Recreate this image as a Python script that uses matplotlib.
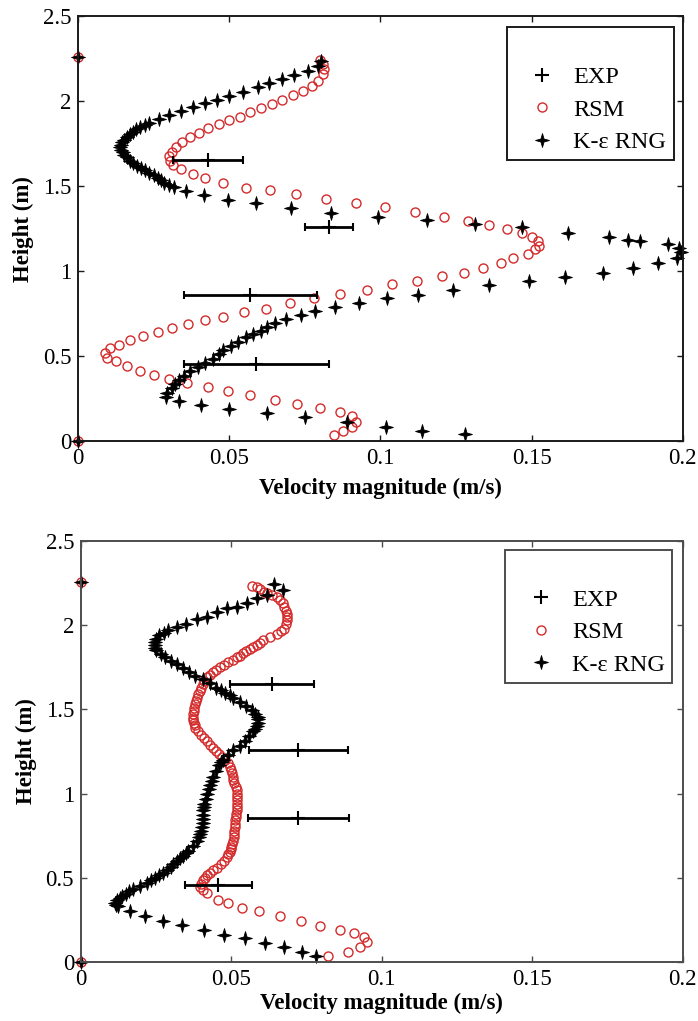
import matplotlib
matplotlib.use("Agg")
import matplotlib.pyplot as plt
from matplotlib.lines import Line2D
from matplotlib.path import Path

plt.rcParams['font.family'] = ['Liberation Serif', 'DejaVu Serif']
plt.rcParams['font.size'] = 16

# ---- top panel data ----
exp1_x = [0.043, 0.083, 0.057, 0.059]
exp1_y = [1.655, 1.26, 0.86, 0.455]
exp1_err = [0.0115, 0.0078, 0.022, 0.024]

rsm1_x = [0.0, 0.080, 0.081, 0.0815, 0.081, 0.0795, 0.0775, 0.0745, 0.071, 0.0675, 0.064,
          0.0605, 0.057, 0.0535, 0.050, 0.0465, 0.043, 0.040, 0.037, 0.0345, 0.0325,
          0.031, 0.030, 0.0305, 0.0315, 0.034, 0.038, 0.042, 0.048, 0.0555, 0.0635,
          0.072, 0.082, 0.092, 0.1015, 0.1115, 0.121, 0.129, 0.136, 0.142, 0.147,
          0.150, 0.152, 0.1525, 0.151, 0.1488, 0.144, 0.140, 0.134, 0.1275, 0.1205,
          0.112, 0.104, 0.0955, 0.0865, 0.078, 0.070, 0.062, 0.055, 0.048, 0.042,
          0.0365, 0.031, 0.0265, 0.0215, 0.017, 0.0135, 0.0105, 0.009, 0.0095, 0.0125,
          0.016, 0.0205, 0.025, 0.030, 0.036, 0.043, 0.0495, 0.057, 0.065, 0.0725,
          0.080, 0.0865, 0.0905, 0.092, 0.0905, 0.0875, 0.0845, 0.0]
rsm1_y = [2.26, 2.245, 2.22, 2.19, 2.16, 2.12, 2.09, 2.06, 2.035, 2.01, 1.985,
          1.96, 1.935, 1.91, 1.89, 1.865, 1.84, 1.815, 1.79, 1.76, 1.73,
          1.70, 1.675, 1.65, 1.625, 1.60, 1.57, 1.55, 1.52, 1.49, 1.475,
          1.455, 1.425, 1.40, 1.375, 1.35, 1.32, 1.295, 1.27, 1.25, 1.225,
          1.20, 1.175, 1.15, 1.13, 1.10, 1.075, 1.05, 1.02, 0.99, 0.97,
          0.94, 0.925, 0.89, 0.865, 0.84, 0.815, 0.78, 0.76, 0.73, 0.715,
          0.69, 0.665, 0.64, 0.62, 0.595, 0.565, 0.545, 0.52, 0.49, 0.47,
          0.44, 0.41, 0.39, 0.365, 0.34, 0.32, 0.295, 0.27, 0.24, 0.22,
          0.195, 0.17, 0.145, 0.115, 0.085, 0.06, 0.035, 0.0]

ke1_x = [0.0, 0.0805, 0.0795, 0.0759, 0.0713, 0.0676, 0.063, 0.0594, 0.0544, 0.050, 0.0459,
         0.042, 0.038, 0.034, 0.030, 0.0268, 0.0235, 0.022, 0.0205, 0.019, 0.018,
         0.017, 0.016, 0.0152, 0.0145, 0.0142, 0.014, 0.0143, 0.0148, 0.0153, 0.016,
         0.017, 0.018, 0.0193, 0.0208, 0.022, 0.0235, 0.025, 0.0264, 0.0275, 0.0285,
         0.030, 0.0317, 0.0356,
         0.0416, 0.0495, 0.0587, 0.0703, 0.0835, 0.0993, 0.1155, 0.1313, 0.147, 0.162,
         0.1755, 0.182, 0.186, 0.195, 0.1987, 0.1995, 0.198, 0.192, 0.1836, 0.1737,
         0.161, 0.149, 0.136, 0.1241, 0.1126, 0.1023, 0.093, 0.085, 0.0785, 0.0736,
         0.0686, 0.065, 0.0625, 0.0605, 0.058, 0.0555, 0.053, 0.0505, 0.048, 0.0465,
         0.0445, 0.042, 0.0395, 0.037, 0.035, 0.0335, 0.032, 0.031, 0.0295, 0.029,
         0.0335, 0.0406, 0.050, 0.0624, 0.0752, 0.089, 0.102, 0.1138, 0.128, 0.0]
ke1_y = [2.26, 2.235, 2.205, 2.18, 2.155, 2.13, 2.105, 2.085, 2.055, 2.03, 2.01,
         1.99, 1.965, 1.94, 1.92, 1.895, 1.87, 1.86, 1.85, 1.835, 1.82,
         1.805, 1.79, 1.775, 1.76, 1.745, 1.73, 1.715, 1.70, 1.685, 1.67,
         1.65, 1.635, 1.62, 1.605, 1.595, 1.58, 1.565, 1.55, 1.535, 1.52,
         1.505, 1.495, 1.47,
         1.45, 1.42, 1.40, 1.37, 1.345, 1.32, 1.30, 1.275, 1.26, 1.225,
         1.20, 1.185, 1.175, 1.16, 1.135, 1.11, 1.08, 1.05, 1.02, 0.99,
         0.965, 0.945, 0.92, 0.89, 0.86, 0.84, 0.815, 0.79, 0.765, 0.745,
         0.72, 0.695, 0.67, 0.65, 0.63, 0.61, 0.585, 0.56, 0.535, 0.51,
         0.485, 0.46, 0.435, 0.41, 0.385, 0.36, 0.335, 0.31, 0.285, 0.26,
         0.235, 0.215, 0.19, 0.165, 0.14, 0.11, 0.08, 0.06, 0.04, 0.0]

# ---- bottom panel data ----
exp2_x = [0.0635, 0.0723, 0.0723, 0.0457]
exp2_y = [1.653, 1.26, 0.853, 0.456]
exp2_err = [0.0139, 0.0163, 0.0168, 0.011]

rsm2_x = [0.0, 0.057, 0.0585, 0.0596, 0.061, 0.062, 0.0635, 0.065, 0.066, 0.067, 0.0676,
          0.068, 0.0685, 0.0686, 0.0685, 0.068, 0.0676, 0.0665, 0.065, 0.063, 0.0606,
          0.0595, 0.0585, 0.0573, 0.0563, 0.055, 0.054, 0.053, 0.052, 0.0505, 0.049,
          0.0477, 0.0463, 0.045, 0.044, 0.043, 0.042, 0.041, 0.0405, 0.040, 0.0396,
          0.039, 0.0387, 0.0383, 0.038, 0.0377, 0.0375, 0.0374, 0.0373, 0.0374, 0.0376,
          0.0378, 0.038, 0.039, 0.040, 0.041, 0.042, 0.043, 0.044, 0.045, 0.046,
          0.047, 0.048, 0.049, 0.0495, 0.050, 0.0502, 0.0504, 0.0506, 0.051, 0.0515,
          0.0518, 0.052, 0.052, 0.052, 0.052, 0.0519, 0.0518, 0.0516, 0.0515, 0.0513,
          0.0512, 0.0511, 0.051, 0.0509, 0.0508, 0.0506, 0.0503, 0.050, 0.0498, 0.0494,
          0.049, 0.0486, 0.0476, 0.0465, 0.0452, 0.044, 0.043, 0.042, 0.0413, 0.0406,
          0.040, 0.0396, 0.0405, 0.042,
          0.0457, 0.049, 0.0536, 0.0593, 0.066, 0.073, 0.0796, 0.086, 0.0906, 0.094,
          0.095, 0.0926, 0.0886, 0.082, 0.0]
rsm2_y = [2.26, 2.235, 2.225, 2.215, 2.20, 2.19, 2.18, 2.17, 2.15, 2.13, 2.11,
          2.085, 2.065, 2.05, 2.03, 2.005, 1.98, 1.965, 1.95, 1.93, 1.91,
          1.895, 1.885, 1.87, 1.86, 1.845, 1.835, 1.82, 1.81, 1.795, 1.78,
          1.765, 1.75, 1.735, 1.72, 1.705, 1.69, 1.67, 1.65, 1.63, 1.61,
          1.59, 1.57, 1.55, 1.53, 1.51, 1.49, 1.47, 1.45, 1.435, 1.42,
          1.405, 1.39, 1.37, 1.35, 1.33, 1.31, 1.29, 1.27, 1.25, 1.235,
          1.22, 1.20, 1.18, 1.16, 1.14, 1.12, 1.10, 1.08, 1.06, 1.04,
          1.02, 1.00, 0.98, 0.96, 0.94, 0.92, 0.90, 0.88, 0.86, 0.84,
          0.82, 0.80, 0.78, 0.76, 0.74, 0.72, 0.70, 0.685, 0.67, 0.655,
          0.64, 0.62, 0.60, 0.58, 0.56, 0.545, 0.53, 0.515, 0.50, 0.486,
          0.465, 0.444, 0.425, 0.41,
          0.37, 0.35, 0.32, 0.30, 0.27, 0.24, 0.215, 0.19, 0.17, 0.145,
          0.115, 0.09, 0.06, 0.035, 0.0]

ke2_x = [0.0, 0.064, 0.067, 0.062, 0.0586, 0.0553, 0.052, 0.0486, 0.0453, 0.042, 0.0386,
         0.035, 0.032, 0.029, 0.0275, 0.026, 0.025, 0.0246, 0.0245, 0.0247, 0.025,
         0.0265, 0.028, 0.030, 0.032, 0.034, 0.036, 0.038, 0.0407, 0.043, 0.045,
         0.0465, 0.048, 0.0495, 0.0507, 0.053, 0.055, 0.0567, 0.058, 0.0587, 0.059,
         0.0589, 0.0586, 0.058, 0.0573, 0.056, 0.0546, 0.0527, 0.0507, 0.049, 0.0473,
         0.0466, 0.046, 0.045, 0.044, 0.0435, 0.043, 0.0425, 0.042, 0.0415, 0.041,
         0.0408, 0.0406, 0.0406, 0.0405, 0.0404, 0.0403, 0.040, 0.0396, 0.0391, 0.0386,
         0.0372, 0.0356, 0.0348, 0.034, 0.033, 0.032, 0.0307, 0.030, 0.0285, 0.0273,
         0.026, 0.0245, 0.0233, 0.022, 0.0195, 0.0173, 0.016, 0.015, 0.0138, 0.013,
         0.012, 0.0113, 0.0118, 0.0123,
         0.0163, 0.0213, 0.0273, 0.0336, 0.041, 0.0476, 0.0546, 0.0613, 0.0676, 0.0736,
         0.078, 0.0]
ke2_y = [2.26, 2.245, 2.21, 2.18, 2.16, 2.13, 2.11, 2.10, 2.08, 2.05, 2.04,
         2.01, 1.99, 1.97, 1.955, 1.94, 1.92, 1.90, 1.88, 1.865, 1.85,
         1.83, 1.81, 1.79, 1.77, 1.745, 1.72, 1.70, 1.68, 1.655, 1.63,
         1.615, 1.60, 1.585, 1.57, 1.545, 1.52, 1.495, 1.47, 1.455, 1.44,
         1.42, 1.40, 1.385, 1.37, 1.34, 1.31, 1.285, 1.26, 1.23, 1.20,
         1.185, 1.17, 1.135, 1.10, 1.075, 1.05, 1.025, 1.00, 0.97, 0.94,
         0.92, 0.90, 0.875, 0.85, 0.825, 0.80, 0.78, 0.76, 0.74, 0.72,
         0.69, 0.66, 0.645, 0.63, 0.615, 0.60, 0.58, 0.565, 0.545, 0.53,
         0.515, 0.50, 0.485, 0.47, 0.45, 0.43, 0.42, 0.405, 0.39, 0.38,
         0.365, 0.35, 0.34, 0.33,
         0.30, 0.27, 0.24, 0.22, 0.19, 0.16, 0.14, 0.11, 0.09, 0.06,
         0.035, 0.0]

xticks = [0, 0.05, 0.1, 0.15, 0.2]
xlabels = ["0", "0.05", "0.1", "0.15", "0.2"]
yticks = [0, 0.5, 1, 1.5, 2, 2.5]
ylabels = ["0", "0.5", "1", "1.5", "2", "2.5"]

red = '#d42a2a'
# thin four-pointed star, looks like the blurred matlab asterisk
star = Path([(0, 1), (0.22, 0.22), (1, 0), (0.22, -0.22), (0, -1), (-0.22, -0.22),
             (-1, 0), (-0.22, 0.22), (0, 1)], closed=True)


def panel(ax, ex, ey, eerr, rx, ry, kx, ky, spine_col, leg_anchor, xpad):
    ax.plot(rx, ry, linestyle='none', marker='o', ms=6.5, mfc='none', mec=red, mew=1.0, clip_on=False)
    ax.plot(kx, ky, linestyle='none', marker=star, ms=10, color='black', mew=0.6, clip_on=False)
    ax.errorbar(ex, ey, xerr=eerr, fmt='+', color='black', ms=10, mew=1.5,
                elinewidth=2, capsize=3, capthick=1.5)
    ax.set_xlim(0, 0.2)
    ax.set_ylim(0, 2.5)
    ax.set_xticks(xticks)
    ax.set_xticklabels(xlabels)
    ax.set_yticks(yticks)
    ax.set_yticklabels(ylabels)
    ax.tick_params(direction='in', length=4, width=1, top=True, right=True, labelsize=16.5, pad=5,
                   color=spine_col)
    for s in ax.spines.values():
        s.set_color(spine_col)
        s.set_linewidth(1.4)
    ax.set_xlabel('Velocity magnitude (m/s)', fontweight='bold', fontsize=16.5, labelpad=xpad)
    ax.set_ylabel('Height (m)', fontweight='bold', fontsize=16.5, labelpad=6)
    h = [Line2D([], [], linestyle='none', marker='+', color='black', ms=10, mew=1.5),
         Line2D([], [], linestyle='none', marker='o', ms=6.5, mfc='none', mec=red, mew=1.0),
         Line2D([], [], linestyle='none', marker=star, ms=10, color='black', mew=0.6)]
    leg = ax.legend(h, ['EXP', 'RSM', 'K-ε RNG'], loc='upper right', bbox_to_anchor=leg_anchor,
                    borderaxespad=0, fancybox=False, framealpha=1, edgecolor=spine_col,
                    fontsize=17.5, borderpad=0.3, handlelength=2.35, handletextpad=0.1,
                    labelspacing=0.43, title=' ', title_fontsize=17)
    leg.get_frame().set_linewidth(1.4)


fig = plt.figure(figsize=(6.98, 10.21), dpi=100)
ax1 = fig.add_axes([0.112, 0.568, 0.866, 0.416])
ax2 = fig.add_axes([0.116, 0.058, 0.862, 0.412])

panel(ax1, exp1_x, exp1_y, exp1_err, rsm1_x, rsm1_y, ke1_x, ke1_y, '#1a1a1a', (0.985, 0.974), 6)
panel(ax2, exp2_x, exp2_y, exp2_err, rsm2_x, rsm2_y, ke2_x, ke2_y, '#4d4d4d', (0.983, 0.979), 2)

fig.savefig('out.png', dpi=100)
